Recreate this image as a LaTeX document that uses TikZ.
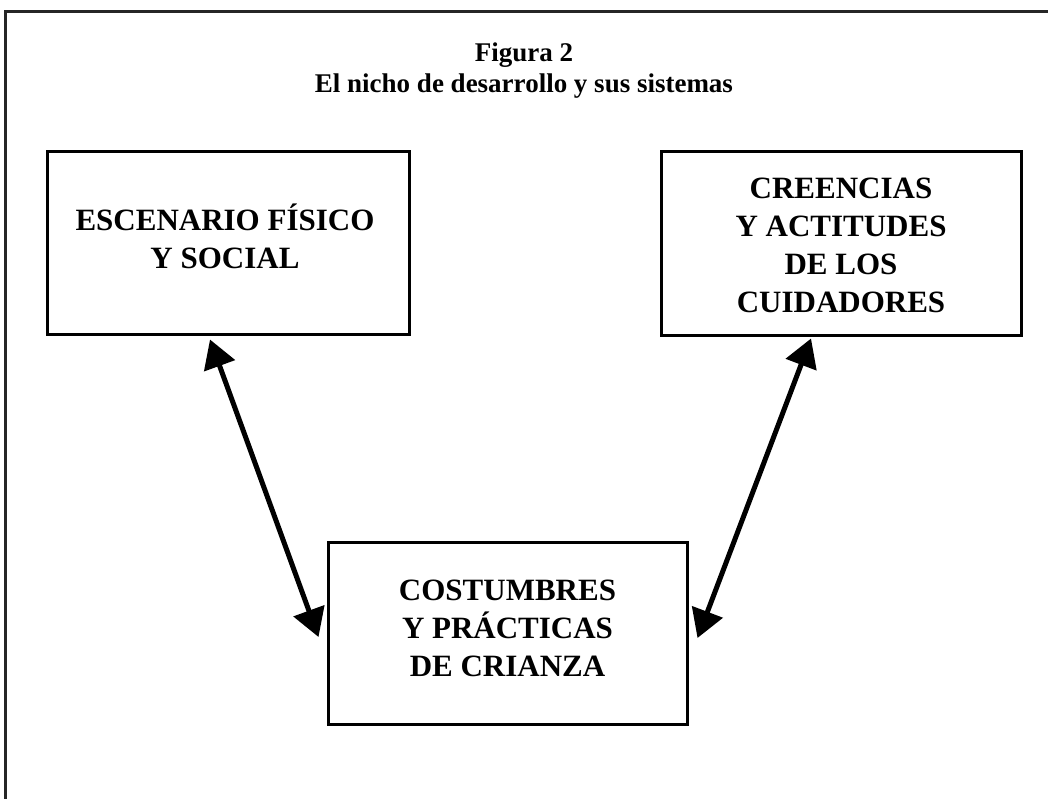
\documentclass[tikz,border=0pt]{standalone}
\usepackage{fontspec}
\setmainfont{Liberation Serif}
\usetikzlibrary{arrows.meta}
\begin{document}
\begin{tikzpicture}[x=1pt,y=-1pt,
  box/.style={draw=black,line width=3pt,inner sep=0pt},
  boxtext/.style={align=center,font=\fontsize{31}{38}\selectfont\bfseries,inner sep=0pt},
  link/.style={line width=5pt,{Triangle[length=28pt,width=32pt]}-{Triangle[length=28pt,width=32pt]}},
  frame/.style={draw=black!85,line width=3pt}]
\useasboundingbox (0,0) rectangle (1048,798);
\draw[frame] (5,800) -- (5,11) -- (1050,11);
\node[font=\fontsize{27}{31}\selectfont\bfseries,align=center,inner sep=0pt] (title) at (524,71) {Figura 2\\El nicho de desarrollo y sus sistemas};
\node[box,minimum width=362pt,minimum height=183pt] (left) at (228,242.5) {};
\node[box,minimum width=360pt,minimum height=184pt] (right) at (841,243) {};
\node[box,minimum width=359pt,minimum height=182pt] (bottom) at (507.5,633) {};
\node[boxtext] (lefttext) at (225,236) {ESCENARIO FÍSICO\\Y SOCIAL};
\node[boxtext] (righttext) at (841,245) {CREENCIAS\\Y ACTITUDES\\DE LOS\\CUIDADORES};
\node[boxtext] (bottomtext) at (507.5,628) {COSTUMBRES\\Y PRÁCTICAS\\DE CRIANZA};
\coordinate (l1) at ([xshift=-18pt,yshift=-4pt]left.south);
\coordinate (l2) at ([xshift=-8pt,yshift=-4pt]bottom.west);
\coordinate (r1) at ([xshift=-30pt,yshift=-2pt]right.south);
\coordinate (r2) at ([xshift=9pt,yshift=-5pt]bottom.east);
\draw[link] (l1) -- (l2);
\draw[link] (r1) -- (r2);
\end{tikzpicture}
\end{document}
